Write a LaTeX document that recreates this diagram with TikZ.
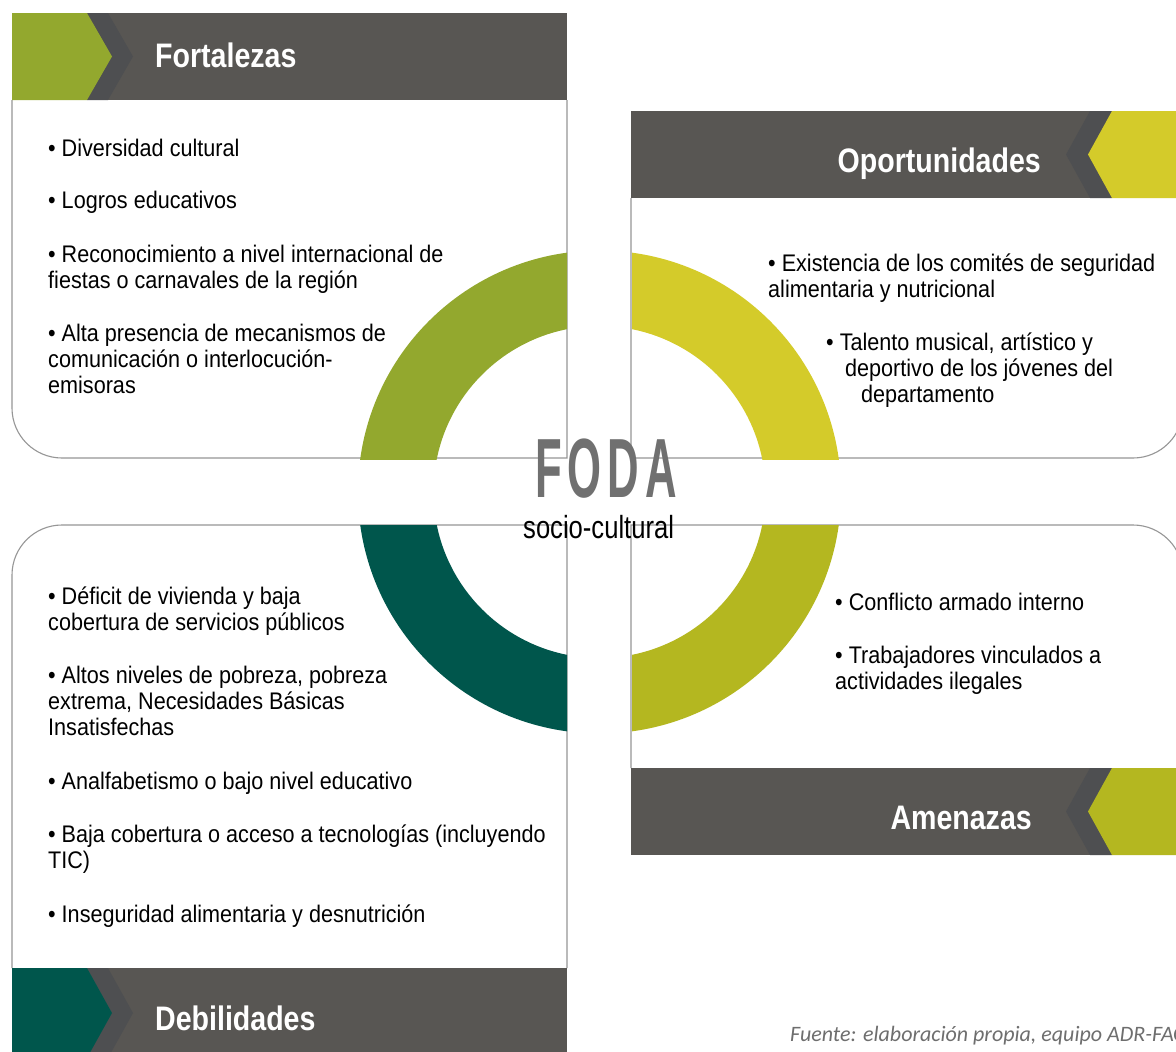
\documentclass[tikz,border=0pt]{standalone}
\usepackage{fontspec}
\setmainfont{Liberation Sans}
\newfontfamily\bodyfont{Liberation Sans}[FakeStretch=0.9]
\newfontfamily\hdrfont{Liberation Sans}[FakeStretch=0.84]
\newfontfamily\fodafont{Liberation Sans}[FakeStretch=0.52,LetterSpace=7]
\newfontfamily\socfont{Liberation Sans}[FakeStretch=0.8]
\newfontfamily\footfont{Carlito}
\definecolor{hdrgray}{RGB}{88,86,83}
\definecolor{chevgray}{RGB}{78,79,81}
\definecolor{fgreen}{RGB}{147,168,46}
\definecolor{oyellow}{RGB}{212,203,42}
\definecolor{aolive}{RGB}{180,183,32}
\definecolor{dteal}{RGB}{0,86,76}
\definecolor{boxgray}{RGB}{150,150,150}
\definecolor{fodagray}{RGB}{112,112,112}
\definecolor{footgray}{RGB}{110,110,110}
\tikzset{
  boxline/.style={draw=boxgray, line width=1.1pt},
  itemtext/.style={anchor=north west, align=left, inner sep=0pt, font=\bodyfont\fontsize{24}{26}\selectfont},
  hdrtext/.style={inner sep=0pt, text=white, font=\hdrfont\bfseries\fontsize{34}{40}\selectfont},
}
\begin{document}
\begin{tikzpicture}[x=1pt,y=-1pt]
\useasboundingbox (0,0) rectangle (1176,1052);
\clip (0,0) rectangle (1176,1052);
\fill[white] (0,0) rectangle (1176,1052);

% ---- box bodies
\draw[boxline] (12,100) -- (12,408) arc[start angle=180,end angle=90,radius=50] -- (567,458) -- (567,100);
\draw[boxline] (12,968) -- (12,575) arc[start angle=180,end angle=270,radius=50] -- (567,525) -- (567,968);
\draw[boxline] (631,198) -- (631,458) -- (1133,458) arc[start angle=90,end angle=0,radius=50] -- (1183,198);
\draw[boxline] (631,768) -- (631,525) -- (1133,525) arc[start angle=270,end angle=360,radius=50] -- (1183,768);

% ---- ring quadrants
\begin{scope}
  \clip (0,0) rectangle (567,459);
  \fill[fgreen,even odd rule] (599.5,492) circle[radius=241.5] (599.5,492) circle[radius=166];
\end{scope}
\begin{scope}
  \clip (632,0) rectangle (1176,459);
  \fill[oyellow,even odd rule] (599.5,492) circle[radius=241.5] (599.5,492) circle[radius=166];
\end{scope}
\begin{scope}
  \clip (0,525) rectangle (567,1052);
  \fill[dteal,even odd rule] (599.5,492) circle[radius=241.5] (599.5,492) circle[radius=166];
\end{scope}
\begin{scope}
  \clip (632,525) rectangle (1176,1052);
  \fill[aolive,even odd rule] (599.5,492) circle[radius=241.5] (599.5,492) circle[radius=166];
\end{scope}

% ---- headers
% Fortalezas
\fill[hdrgray] (12,13) rectangle (567,100);
\fill[chevgray] (87,13) -- (108,13) -- (133,56.5) -- (108,100) -- (87,100) -- (112,56.5) -- cycle;
\fill[fgreen] (12,13) -- (87,13) -- (112,56.5) -- (87,100) -- (12,100) -- cycle;
% Oportunidades
\fill[hdrgray] (631,111) rectangle (1183,198);
\fill[chevgray] (1090,111) -- (1112,111) -- (1088,154.5) -- (1112,198) -- (1090,198) -- (1066,154.5) -- cycle;
\fill[oyellow] (1112,111) -- (1183,111) -- (1183,198) -- (1112,198) -- (1088,154.5) -- cycle;
% Amenazas
\fill[hdrgray] (631,768) rectangle (1183,855);
\fill[chevgray] (1090,768) -- (1112,768) -- (1088,811.5) -- (1112,855) -- (1090,855) -- (1066,811.5) -- cycle;
\fill[aolive] (1112,768) -- (1183,768) -- (1183,855) -- (1112,855) -- (1088,811.5) -- cycle;
% Debilidades
\fill[hdrgray] (12,968) rectangle (567,1058);
\fill[chevgray] (87,968) -- (108,968) -- (133,1013) -- (108,1058) -- (87,1058) -- (112,1013) -- cycle;
\fill[dteal] (12,968) -- (87,968) -- (112,1013) -- (87,1058) -- (12,1058) -- cycle;

\node[hdrtext, anchor=base west] (hF) at (155,67) {Fortalezas};
\node[hdrtext, anchor=base east] (hO) at (1041,172.5) {Oportunidades};
\node[hdrtext, anchor=base east] (hA) at (1032,829.5) {Amenazas};
\node[hdrtext, anchor=base west] (hD) at (155,1030.5) {Debilidades};

% ---- centre
\node[anchor=base west, inner sep=0pt, text=fodagray, font=\fodafont\bfseries\fontsize{84}{86}\selectfont] (foda) at (535,497) {FODA};
\node[anchor=base west, inner sep=0pt, font=\socfont\fontsize{32}{34}\selectfont] (soc) at (523,538) {socio-cultural};

% ---- Fortalezas items
\node[itemtext] (f1) at (48,137.8) {\strut• Diversidad cultural};
\node[itemtext] (f2) at (48,189.8) {\strut• Logros educativos};
\node[itemtext] (f3) at (48,243.8) {\strut• Reconocimiento a nivel internacional de\\fiestas o carnavales de la región};
\node[itemtext] (f4) at (48,322.8) {\strut• Alta presencia de mecanismos de\\comunicación o interlocución-\\emisoras};

% ---- Oportunidades items
\node[itemtext] (o1) at (768,252.8) {\strut• Existencia de los comités de seguridad\\alimentaria y nutricional};
\node[itemtext] (o2) at (826,331.8) {\strut• Talento musical, artístico y\\\hspace*{19pt}deportivo de los jóvenes del\\\hspace*{35pt}departamento};

% ---- Amenazas items
\node[itemtext] (a1) at (835,591.8) {\strut• Conflicto armado interno};
\node[itemtext] (a2) at (835,644.8) {\strut• Trabajadores vinculados a\\actividades ilegales};

% ---- Debilidades items
\node[itemtext] (d1) at (48,585.8) {\strut• Déficit de vivienda y baja\\cobertura de servicios públicos};
\node[itemtext] (d2) at (48,664.8) {\strut• Altos niveles de pobreza, pobreza\\extrema, Necesidades Básicas\\Insatisfechas};
\node[itemtext] (d3) at (48,770.8) {\strut• Analfabetismo o bajo nivel educativo};
\node[itemtext] (d4) at (48,823.8) {\strut• Baja cobertura o acceso a tecnologías (incluyendo\\TIC)};
\node[itemtext] (d5) at (48,903.8) {\strut• Inseguridad alimentaria y desnutrición};

% ---- footer (cut at the right edge, as in the reference)
\node[anchor=base west, inner sep=0pt, text=footgray, font=\footfont\itshape\fontsize{22}{24}\selectfont] (foot) at (790,1041) {Fuente: elaboración propia, equipo ADR-FAO};
\end{tikzpicture}
\end{document}
